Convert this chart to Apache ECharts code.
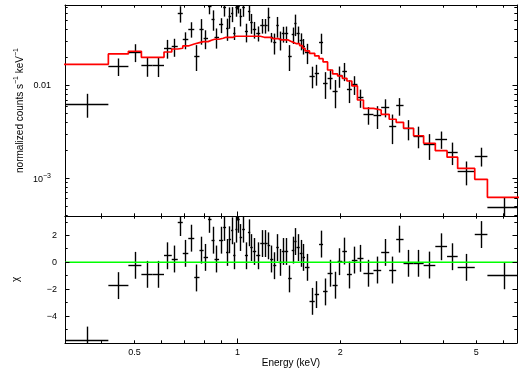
<!DOCTYPE html>
<html><head><meta charset="utf-8">
<script src="https://cdn.jsdelivr.net/npm/echarts@6/dist/echarts.min.js"></script>
<style>html,body{margin:0;padding:0;background:#fff}#c{width:526px;height:371px}</style>
</head><body><div id="c"></div>
<script>
// ---- data (keV, counts/s/keV, chi) ----
const energy = [0.3651,0.4495,0.5017,0.5439,0.5870,0.6263,0.6558,0.6806,0.7052,0.7331,
0.7612,0.7855,0.8085,0.8303,0.8486,0.8705,0.8962,0.9176,0.9345,0.9504,
0.9652,0.9794,0.9933,1.0079,1.0243,1.0424,1.0627,1.0819,1.0996,1.1221,
1.1509,1.1825,1.2123,1.2367,1.2603,1.2865,1.3106,1.3351,1.3624,1.3922,
1.4250,1.4546,1.4783,1.5056,1.5364,1.5641,1.6015,1.6548,1.7088,1.7575,
1.8087,1.8677,1.9319,1.9963,2.0599,2.1271,2.2039,2.2919,2.4201,2.5685,
2.7082,2.8486,2.9896,3.1707,3.3926,3.6511,3.9512,4.2594,4.6806,5.1703,6.0604];
const energyHalfWidth = [0.0541,0.0303,0.0220,0.0202,0.0230,0.0163,0.0133,0.0115,0.0131,0.0148,
0.0134,0.0110,0.0121,0.0097,0.0086,0.0134,0.0124,0.0090,0.0079,0.0080,
0.0069,0.0073,0.0067,0.0079,0.0086,0.0095,0.0108,0.0084,0.0094,0.0132,
0.0156,0.0160,0.0139,0.0105,0.0132,0.0130,0.0111,0.0135,0.0138,0.0160,
0.0168,0.0128,0.0110,0.0163,0.0146,0.0132,0.0242,0.0291,0.0250,0.0237,
0.0275,0.0316,0.0327,0.0317,0.0320,0.0352,0.0416,0.0464,0.0818,0.0667,
0.0731,0.0673,0.0738,0.1073,0.1146,0.1439,0.1563,0.1519,0.2693,0.2205,0.6697];
const flux = [0.00634,0.0162,0.0230,0.0164,0.0164,0.0254,0.0263,0.0600,0.0312,0.0407,
0.0209,0.0400,0.0322,0.0720,0.0521,0.0333,0.0452,0.0700,0.0417,0.0556,
0.0595,0.0370,0.0700,0.0720,0.0556,0.0700,0.0380,0.0630,0.0479,0.0405,
0.0368,0.0445,0.0445,0.0540,0.0332,0.0291,0.0441,0.0312,0.0362,0.0362,
0.0209,0.0353,0.0464,0.0362,0.0304,0.0268,0.0227,0.0127,0.0134,0.0292,
0.0106,0.0120,0.00861,0.0128,0.0144,0.00899,0.0103,0.00742,0.00483,0.00471,
0.00584,0.00361,0.00604,0.00341,0.00286,0.00229,0.00264,0.00191,0.00118,0.00174,0.000486];
const fluxErr = [0.00183,0.00347,0.00503,0.00392,0.0040,0.00582,0.0058,0.0120,0.00647,0.00769,
0.0065,0.0123,0.00743,0.0130,0.0129,0.00817,0.0083,0.0143,0.0112,0.01445,
0.0110,0.00588,0.0145,0.0118,0.0120,0.0145,0.00867,0.0130,0.0116,0.00829,
0.0068,0.0080,0.0080,0.0155,0.0039,0.0074,0.0111,0.0072,0.0070,0.0073,
0.0065,0.0071,0.0121,0.0073,0.0063,0.0051,0.0056,0.00333,0.0034,0.0072,
0.0034,0.0029,0.0029,0.0033,0.0032,0.0025,0.00236,0.00165,0.00104,0.0013,
0.00129,0.00127,0.0013,0.00084,0.00075,0.00071,0.00056,0.00052,0.00034,0.0004,0.000137];
const model = [0.0170,0.0220,0.02353,0.02026,0.02026,0.0231,0.0249,0.02535,0.02684,0.0282,
0.02913,0.02987,0.02987,0.0309,0.0317,0.0317,0.0325,0.0333,0.0333,0.0333,
0.0333,0.03416,0.03416,0.03416,0.03416,0.03416,0.03416,0.03416,0.03416,0.03416,
0.03416,0.0333,0.0333,0.0333,0.03218,0.03218,0.03218,0.03115,0.03115,0.03115,
0.02987,0.02913,0.02842,0.02842,0.02704,0.02535,0.0237,0.02238,0.02093,0.01957,
0.01803,0.01477,0.01338,0.01273,0.01202,0.01124,0.00993,0.00701,0.00570,0.00547,
0.00491,0.00434,0.00402,0.00347,0.00288,0.00239,0.00199,0.00169,0.00128,0.000975,0.000623];
const chi = [-5.78,-1.73,-0.22,-0.89,-0.89,0.49,0.25,2.96,0.67,1.8,
-1.16,0.91,0.37,3.2,1.65,0.25,1.65,2.6,0.74,1.68,
2.35,0.49,2.47,3.2,1.85,2.47,0.49,2.2,1.1,0.81,
0.49,1.4,1.4,1.23,0.25,-0.25,1.1,0,0.81,0.81,
-1.23,0.91,1.55,1.1,0.67,0.37,-0.37,-2.9,-2.4,1.36,
-2.2,-0.81,-1.7,0.05,0.84,-0.94,0.17,0.3,-0.81,-0.57,
0.74,-0.57,1.73,-0.07,-0.07,-0.2,1.16,0.42,-0.37,2.07,-1.0];
const chiErr = 1; // residuals are in units of sigma

// ---- axes ----
const xRange = [0.313, 6.58];
const fluxRange = [3.92e-4, 0.0743];
const chiRange = [-6, 3.45];
const xMajorTicks = [1];
const xMinorTicks = [0.4,0.5,0.6,0.7,0.8,0.9,2,3,4,5,6];
const xTickLabels = [0.5,1,2,5];
const fluxMajorTicks = [0.001,0.01];
const fluxMinorTicks = [4e-4,5e-4,6e-4,7e-4,8e-4,9e-4,0.002,0.003,0.004,0.005,0.006,0.007,0.008,0.009,0.02,0.03,0.04,0.05,0.06,0.07];
const fluxTickLabels = [0.001,0.01];
const chiMajorTicks = [-4,-2,0,2];
const chiMinorTicks = [-5,-3,-1,1,3];
const chiTickLabels = [-4,-2,0,2];

const FONT = '"Liberation Sans", Arial, sans-serif';
const snap = v => Math.floor(v) + 0.5;
const seg = (x1,y1,x2,y2,stroke,w) => ({type:'line', shape:{x1,y1,x2,y2}, style:{stroke, lineWidth:w}});

function axisBase(extra){
  return Object.assign({
    axisLine:{show:true,onZero:false,lineStyle:{color:'#000',width:1}},
    axisTick:{show:false}, axisLabel:{show:false}, splitLine:{show:false},
    minorTick:{show:false}, minorSplitLine:{show:false}
  }, extra);
}

function xTicks(xi, yi, values, len, refY){
  return {type:'custom', xAxisIndex:xi, yAxisIndex:yi, silent:true, z:6, clip:false,
    data: values.map(v=>[v]), encode:{x:0},
    renderItem:(params, api)=>{
      const cs = params.coordSys;
      const x = snap(api.coord([api.value(0), refY])[0]);
      return {type:'group', children:[
        seg(x, cs.y, x, cs.y+len, '#000', 1),
        seg(x, cs.y+cs.height, x, cs.y+cs.height-len, '#000', 1)]};
    }};
}
function yTicks(xi, yi, values, len){
  return {type:'custom', xAxisIndex:xi, yAxisIndex:yi, silent:true, z:6, clip:false,
    data: values.map(v=>[v]), encode:{y:0},
    renderItem:(params, api)=>{
      const cs = params.coordSys;
      const y = snap(api.coord([xRange[0], api.value(0)])[1]);
      return {type:'group', children:[
        seg(cs.x, y, cs.x+len, y, '#000', 1),
        seg(cs.x+cs.width, y, cs.x+cs.width-len, y, '#000', 1)]};
    }};
}
function fmtFlux(v){
  const p = Math.round(Math.log10(v));
  if (p >= -2) return String(+v.toFixed(-p));
  return '{n|10}{s|' + String(p).replace('-', '\u2212') + '}';
}
const fmtChi = v => String(v).replace('-', '\u2212');

const crossRender = (params, api) => {
  const c = api.value(0), h = api.value(1), y = api.value(2), e = api.value(3);
  const a = api.coord([c-h, y]), b = api.coord([c+h, y]);
  const t = api.coord([c, y+e]), u = api.coord([c, y-e]);
  const yy = snap(a[1]), xx = snap(t[0]);
  return {type:'group', children:[
    seg(a[0], yy, b[0], yy, '#000', 1.4),
    seg(xx, t[1], xx, u[1], '#000', 1.4)]};
};

// model step line built from bin edges
const modelLine = [];
energy.forEach((e,i)=>{
  modelLine.push([e - energyHalfWidth[i], model[i]]);
  modelLine.push([e + energyHalfWidth[i], model[i]]);
});

const chart = echarts.init(document.getElementById('c'), null, {renderer:'canvas'});
const xLog = {type:'log', logBase:10, min:xRange[0], max:xRange[1]};
chart.setOption({
  animation:false,
  backgroundColor:'#fff',
  grid:[
    {left:65, top:5, width:452, height:211},
    {left:65, top:216, width:452, height:127}
  ],
  xAxis:[
    axisBase(Object.assign({gridIndex:0, position:'bottom'}, xLog)),
    axisBase(Object.assign({gridIndex:0, position:'top'}, xLog)),
    axisBase(Object.assign({gridIndex:1, position:'bottom', name:'Energy (keV)', nameLocation:'middle', nameGap:15,
      nameTextStyle:{fontFamily:FONT, fontSize:10, color:'#000', verticalAlign:'top'}}, xLog)),
    axisBase(Object.assign({gridIndex:1, position:'top'}, xLog))
  ],
  yAxis:[
    axisBase({type:'log', logBase:10, gridIndex:0, position:'left', min:fluxRange[0], max:fluxRange[1],
      name:'{a|normalized counts s}{s|\u22121}{a| keV}{s|\u22121}', nameLocation:'middle', nameRotate:90, nameGap:40,
      nameTextStyle:{rich:{
        a:{fontFamily:FONT, fontSize:10, color:'#000', lineHeight:12, verticalAlign:'bottom'},
        s:{fontFamily:FONT, fontSize:7, color:'#000', lineHeight:6, verticalAlign:'top'}}}}),
    axisBase({type:'log', logBase:10, gridIndex:0, position:'right', min:fluxRange[0], max:fluxRange[1]}),
    axisBase({type:'value', gridIndex:1, position:'left', min:chiRange[0], max:chiRange[1],
      name:'\u03c7', nameLocation:'middle', nameRotate:90, nameGap:44,
      nameTextStyle:{fontFamily:FONT, fontSize:10, color:'#000'}}),
    axisBase({type:'value', gridIndex:1, position:'right', min:chiRange[0], max:chiRange[1]})
  ],
  series:[
    {type:'custom', name:'data', xAxisIndex:0, yAxisIndex:0, clip:true, z:2, silent:true,
      data: energy.map((e,i)=>[e, energyHalfWidth[i], flux[i], fluxErr[i]]), encode:{x:0, y:2},
      renderItem: crossRender},
    {type:'line', name:'model', xAxisIndex:0, yAxisIndex:0, data:modelLine, symbol:'none', clip:true, z:3,
      lineStyle:{color:'#ff0000', width:1.7}, silent:true},
    {type:'custom', name:'residuals', xAxisIndex:2, yAxisIndex:2, clip:true, z:2, silent:true,
      data: energy.map((e,i)=>[e, energyHalfWidth[i], chi[i], chiErr]), encode:{x:0, y:2},
      renderItem: crossRender},
    {type:'line', name:'zero', xAxisIndex:2, yAxisIndex:2, data:[[xRange[0],0],[xRange[1],0]], symbol:'none', z:3,
      lineStyle:{color:'#00ff00', width:1.5}, silent:true},
    xTicks(0,0,xMajorTicks,4.5,fluxRange[0]), xTicks(0,0,xMinorTicks,2.7,fluxRange[0]),
    xTicks(2,2,xMajorTicks,4.5,0), xTicks(2,2,xMinorTicks,2.7,0),
    yTicks(0,0,fluxMajorTicks,4.5), yTicks(0,0,fluxMinorTicks,2.7),
    yTicks(2,2,chiMajorTicks,4.5), yTicks(2,2,chiMinorTicks,2.7),
    {type:'custom', xAxisIndex:2, yAxisIndex:2, clip:false, silent:true, z:6,
      data: xTickLabels.map(v=>[v]), encode:{x:0},
      renderItem:(params, api)=>{
        const cs = params.coordSys; const v = api.value(0);
        const x = api.coord([v, 0])[0];
        return {type:'text', x:x, y:cs.y+cs.height+5, style:{text:String(v), fill:'#000',
          fontFamily:FONT, fontSize:9, align:'center', verticalAlign:'top'}};
      }},
    {type:'custom', xAxisIndex:0, yAxisIndex:0, clip:false, silent:true, z:6,
      data: fluxTickLabels.map(v=>[v]), encode:{y:0},
      renderItem:(params, api)=>{
        const cs = params.coordSys; const v = api.value(0);
        const y = api.coord([xRange[0], v])[1];
        return {type:'text', x:cs.x-14, y:y, style:{text:fmtFlux(v), fill:'#000',
          fontFamily:FONT, fontSize:9, align:'right', verticalAlign:'middle',
          rich:{n:{fontFamily:FONT, fontSize:9, lineHeight:12, verticalAlign:'bottom', fill:'#000'},
                s:{fontFamily:FONT, fontSize:7, lineHeight:6, verticalAlign:'top', fill:'#000'}}}};
      }},
    {type:'custom', xAxisIndex:2, yAxisIndex:2, clip:false, silent:true, z:6,
      data: chiTickLabels.map(v=>[v]), encode:{y:0},
      renderItem:(params, api)=>{
        const cs = params.coordSys; const v = api.value(0);
        const y = api.coord([xRange[0], v])[1];
        return {type:'text', x:cs.x-8, y:y, style:{text:fmtChi(v), fill:'#000',
          fontFamily:FONT, fontSize:9, align:'right', verticalAlign:'middle'}};
      }}
  ]
});
</script></body></html>
